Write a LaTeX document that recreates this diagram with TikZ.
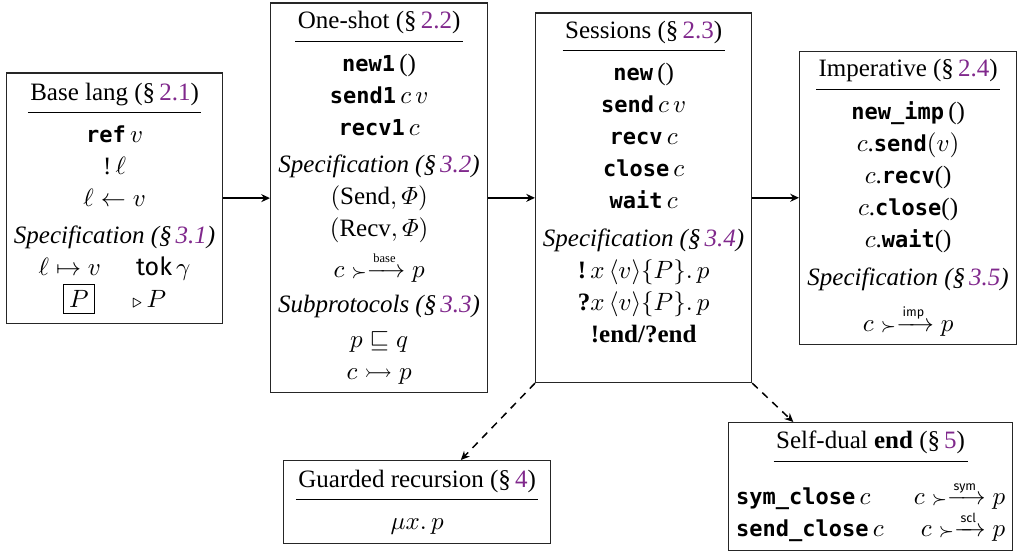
\documentclass[tikz,border=0pt]{standalone}
\usepackage{amsmath,amssymb}
\usepackage{fontspec}
\setmainfont{Liberation Serif}
\setsansfont{Fira Sans}
\setmonofont[Scale=0.88]{DejaVu Sans Mono}
\usetikzlibrary{arrows.meta,calc}

\definecolor{secPurple}{RGB}{128,40,140}
\newcommand{\secref}[1]{\textcolor{secPurple}{#1}}
\newcommand{\boxtitle}[1]{\underline{\hspace{1pt}#1\rule[-3.6pt]{0pt}{0pt}\hspace{1pt}}}
\newcommand{\kw}[1]{\texttt{\bfseries #1}}
\newcommand{\chanto}[1]{\mathrel{\smash[t]{{\scriptstyle\succ}\mkern-5mu\xrightarrow{\scriptscriptstyle #1}}}}

\begin{document}
\begin{tikzpicture}
    [x=0.4pt, y=-0.4pt,
    box/.style={draw=black!85, line width=0.5pt, anchor=north west, align=center, inner sep=0pt,
        font=\fontsize{10}{12.8}\selectfont},
    conn/.style={line width=0.6pt, -{Stealth[length=3.5pt,width=3.2pt]}}]
    \useasboundingbox (0,0) rectangle (1018,552);

    \node[box, minimum width=86.4pt, minimum height=100pt] (B) at (6,72.5) {%
        \boxtitle{Base lang (\S\,\secref{2.1})}\\[4.2pt]
        \kw{ref}\,$v$\\
        !\,$\ell$\\
        $\ell \leftarrow v$\\[2pt]
        \textit{Specification (\S\,\secref{3.1})}\\
        $\ell \mapsto v$\hspace{14pt}\textsf{tok}\,$\gamma$\\
        {\fboxsep=2pt\fbox{$P$}}\hspace{15pt}${\scriptstyle\triangleright}\,P$};
    \node[box, minimum width=86.8pt, minimum height=155.8pt] (O) at (270,2.5) {%
        \boxtitle{One-shot (\S\,\secref{2.2})}\\[4.2pt]
        \kw{new1}\,()\\
        \kw{send1}\,$c\,v$\\
        \kw{recv1}\,$c$\\[2pt]
        \textit{Specification (\S\,\secref{3.2})}\\
        $(\text{Send}, \varPhi)$\\
        $(\text{Recv}, \varPhi)$\\[3.6pt]
        $c \chanto{\textrm{base}} p$\\[1.2pt]
        \textit{Subprotocols (\S\,\secref{3.3})}\\[1.4pt]
        $p \sqsubseteq q$\\
        $c \rightarrowtail p$};
    \node[box, minimum width=86.4pt, minimum height=147.8pt] (S) at (535,12.4) {%
        \boxtitle{Sessions (\S\,\secref{2.3})}\\[4.2pt]
        \kw{new}\,()\\
        \kw{send}\,$c\,v$\\
        \kw{recv}\,$c$\\
        \kw{close}\,$c$\\
        \kw{wait}\,$c$\\[2.4pt]
        \textit{Specification (\S\,\secref{3.4})}\\
        \textbf{!}\,$x\,\langle v\rangle\{P\}.\,p$\\
        \textbf{?}$x\,\langle v\rangle\{P\}.\,p$\\
        \textbf{!end/?end}\\
        \mbox{}};
    \node[box, minimum width=86.8pt, minimum height=117.4pt] (I) at (799,50.6) {%
        \boxtitle{Imperative (\S\,\secref{2.4})}\\[4.2pt]
        \kw{new\_imp}\,()\\
        $c$.\kw{send}$(v)$\\
        $c$.\kw{recv}()\\
        $c$.\kw{close}()\\
        $c$.\kw{wait}()\\[2.4pt]
        \textit{Specification (\S\,\secref{3.5})}\\[5.6pt]
        $c \chanto{\textsf{imp}} p$};
    \node[box, minimum width=106.8pt, minimum height=33.2pt] (G) at (283,460) {%
        \boxtitle{Guarded recursion (\S\,\secref{4})}\\[4.2pt]
        $\mu x.\,p$};
    \node[box, minimum width=113.6pt, minimum height=51.2pt] (E) at (728,422) {%
        \boxtitle{Self-dual \textbf{end} (\S\,\secref{5})}\\[9.6pt]
        \makebox[107.6pt]{\kw{sym\_close}\,$c$\hfill$c \chanto{\textsf{sym}} p$}\\
        \makebox[107.6pt]{\kw{send\_close}\,$c$\hfill$c \chanto{\textsf{scl}} p$}};

    \draw[conn] (B.east) -- (B.east -| O.west);
    \draw[conn] (O.east) -- (O.east -| S.west);
    \draw[conn] (S.east) -- (S.east -| I.west);
    \draw[conn, dash pattern=on 3pt off 2.5pt] (S.south west) -- ($(G.north west)!0.663!(G.north east)$);
    \draw[conn, dash pattern=on 3pt off 2.5pt] (S.south east) -- ($(E.north west)!0.229!(E.north east)$);
\end{tikzpicture}
\end{document}
